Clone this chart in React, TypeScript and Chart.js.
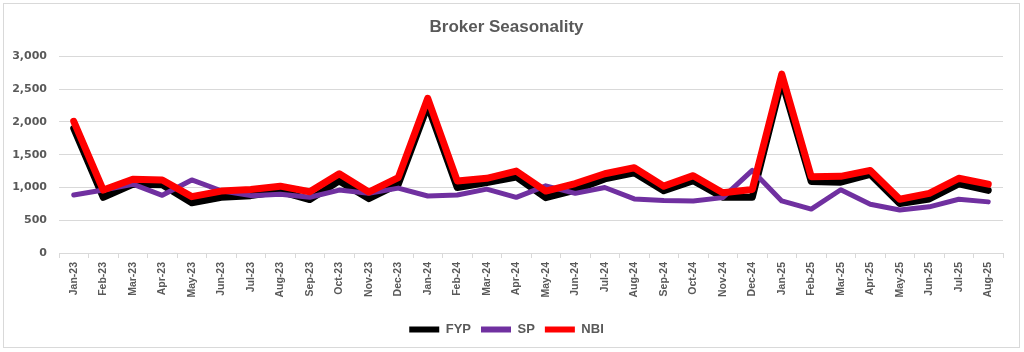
import React, { useEffect, useRef } from "react";
import { Chart, registerables } from "chart.js";

Chart.register(...registerables);

const months = [
  "Jan-23", "Feb-23", "Mar-23", "Apr-23", "May-23", "Jun-23", "Jul-23", "Aug-23", "Sep-23", "Oct-23", "Nov-23", "Dec-23",
  "Jan-24", "Feb-24", "Mar-24", "Apr-24", "May-24", "Jun-24", "Jul-24", "Aug-24", "Sep-24", "Oct-24", "Nov-24", "Dec-24",
  "Jan-25", "Feb-25", "Mar-25", "Apr-25", "May-25", "Jun-25", "Jul-25", "Aug-25",
];

const fypValues = [
  1900, 850, 1050, 1040, 765, 850, 875, 940, 815, 1100, 830, 1050,
  2250, 1000, 1075, 1160, 845, 960, 1130, 1225, 950, 1105, 850, 850,
  2630, 1090, 1080, 1200, 755, 825, 1055, 955,
];

const spValues = [
  885, 960, 1050, 880, 1115, 950, 875, 895, 850, 960, 910, 990,
  870, 885, 975, 850, 1025, 910, 1000, 825, 800, 795, 845, 1260,
  795, 670, 965, 745, 655, 705, 820, 780,
];

const nbiValues = [
  2010, 960, 1125, 1115, 860, 945, 970, 1020, 935, 1210, 930, 1150,
  2360, 1100, 1140, 1250, 945, 1060, 1210, 1300, 1020, 1180, 920, 970,
  2730, 1165, 1170, 1260, 820, 910, 1140, 1050,
];

const yTicks = [0, 500, 1000, 1500, 2000, 2500, 3000];

const TEXT = "#595959";
const GRID = "#d9d9d9";
const NARROW = "'Liberation Sans Narrow', 'Liberation Sans', Arial, sans-serif";

const framePlugin = {
  id: "frame",
  beforeDraw(chart: any) {
    const ctx = chart.ctx;
    ctx.save();
    ctx.fillStyle = "#ffffff";
    ctx.fillRect(0, 0, chart.width, chart.height);
    ctx.strokeStyle = GRID;
    ctx.lineWidth = 1;
    ctx.strokeRect(3.5, 3.5, 1016, 344);
    ctx.restore();
  },
};

export default function App() {
  const ref = useRef<HTMLCanvasElement>(null);

  useEffect(() => {
    document.body.style.margin = "0";
    const chart = new Chart(ref.current!, {
      type: "line",
      data: {
        labels: months,
        datasets: [
          {
            label: "FYP",
            data: fypValues,
            borderColor: "#000000",
            backgroundColor: "#000000",
            borderWidth: 7,
            order: 3,
          },
          {
            label: "SP",
            data: spValues,
            borderColor: "#7030A0",
            backgroundColor: "#7030A0",
            borderWidth: 5,
            order: 2,
          },
          {
            label: "NBI",
            data: nbiValues,
            borderColor: "#FF0000",
            backgroundColor: "#FF0000",
            borderWidth: 7,
            order: 1,
          },
        ],
      },
      options: {
        responsive: false,
        animation: false,
        locale: "en-US",
        elements: {
          point: { radius: 0, hoverRadius: 0 },
          line: { tension: 0, borderJoinStyle: "round", borderCapStyle: "round" },
        },
        layout: { padding: { left: 10, right: 21, top: 0, bottom: 6 } },
        plugins: {
          title: {
            display: true,
            text: "Broker Seasonality",
            color: TEXT,
            font: { family: NARROW, size: 17, weight: "bold" },
            padding: { top: 17, bottom: 19 },
          },
          legend: {
            position: "bottom",
            labels: {
              color: TEXT,
              font: { family: NARROW, size: 13, weight: "bold" },
              boxWidth: 30,
              boxHeight: 6,
              padding: 10,
              generateLabels: (c: any) =>
                Chart.defaults.plugins.legend.labels
                  .generateLabels(c)
                  .map((l: any) => ({ ...l, lineWidth: 0 }))
                  .sort((a: any, b: any) => a.datasetIndex - b.datasetIndex),
            },
          },
          tooltip: { enabled: false },
        },
        scales: {
          x: {
            type: "category",
            offset: true,
            grid: {
              offset: true,
              drawOnChartArea: false,
              drawTicks: true,
              tickLength: 5,
              color: GRID,
            },
            border: { display: true, color: GRID, width: 1 },
            ticks: {
              autoSkip: false,
              minRotation: 90,
              maxRotation: 90,
              padding: 4,
              color: TEXT,
              font: { family: NARROW, size: 10.5, weight: "bold" },
            },
            afterFit(scale: any) {
              scale.height = 60;
            },
          },
          y: {
            min: 0,
            max: 3000,
            afterBuildTicks(scale: any) {
              scale.ticks = yTicks.map((v) => ({ value: v }));
            },
            grid: { color: GRID, drawTicks: false },
            border: { display: false },
            ticks: {
              padding: 12,
              color: TEXT,
              font: { family: "'DejaVu Sans', sans-serif", size: 11, weight: "bold" },
              callback: (v: any) => Number(v).toLocaleString("en-US"),
            },
            afterFit(scale: any) {
              scale.width = 49;
            },
          },
        },
      },
      plugins: [framePlugin],
    });
    return () => chart.destroy();
  }, []);

  return (
    <div style={{ position: "absolute", left: 0, top: 0, width: 1024, height: 352 }}>
      <canvas ref={ref} width={1024} height={352} />
    </div>
  );
}
